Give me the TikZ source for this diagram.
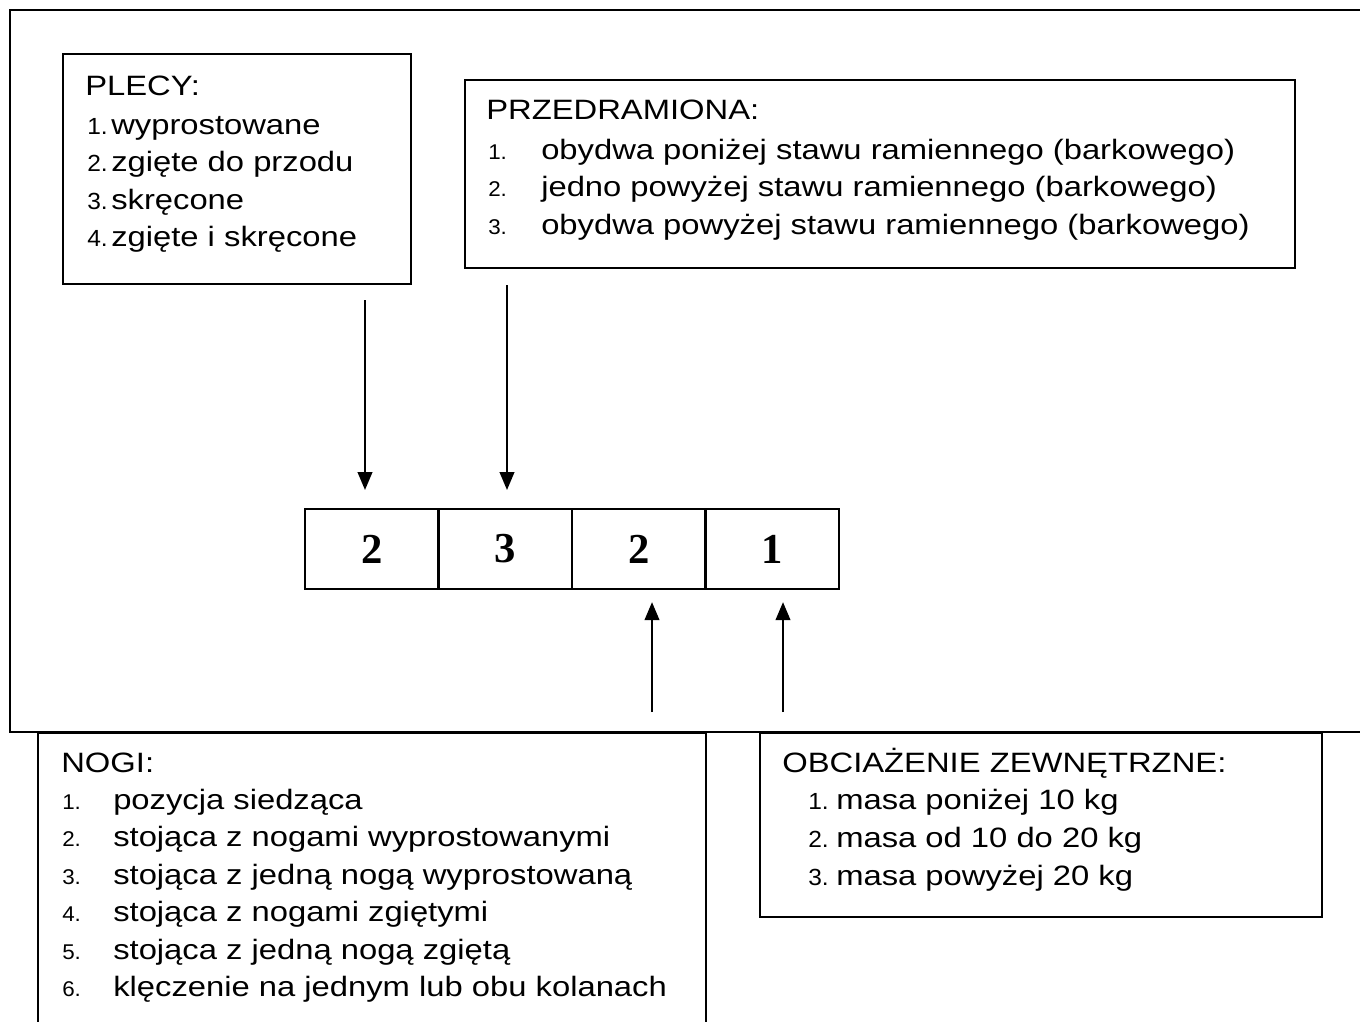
\documentclass[tikz,border=0pt]{standalone}
\usepackage{fontspec}
\setmainfont{Liberation Sans}
\newfontfamily\txtf[FakeStretch=1.17]{Liberation Sans}
\newfontfamily\numf[FakeStretch=1.05]{Liberation Sans}
\newfontfamily\cellf{Liberation Serif}
\usetikzlibrary{arrows.meta}
\begin{document}
\begin{tikzpicture}[x=0.75pt,y=-0.75pt,
  frame/.style={line width=1.6pt},
  box/.style={draw, line width=1.6pt, fill=white, inner sep=0pt, anchor=north west},
  cellbox/.style={draw, line width=1.6pt, fill=white, inner sep=0pt, anchor=north west,
    minimum width=100.1pt, minimum height=60pt,
    font=\fontsize{32}{36}\cellf\bfseries},
  tl/.style={anchor=base west, inner sep=0pt, font=\fontsize{21}{25}\txtf},
  nl/.style={anchor=base west, inner sep=0pt, font=\fontsize{16}{19}\numf},
  nlb/.style={anchor=base west, inner sep=0pt, font=\fontsize{17.5}{20}\numf},
  arr/.style={line width=1.5pt, -{Triangle[length=13.5pt,width=11pt]}}]
\useasboundingbox (0,0) rectangle (1360,1021);
\clip (0,0) rectangle (1360,1021);
\fill[white] (0,0) rectangle (1360,1021);
% outer frame
\draw[frame] (1370,10) -- (10,10) -- (10,732) -- (1370,732);

% PLECY
\node[box, minimum width=261pt, minimum height=172.5pt] (plecy) at (62,53) {};
\node[tl] (p0) at (85,95) {PLECY:};
\node[nlb] (pn1) at (87,134) {1.};
\node[tl] (p1) at (111,134) {wyprostowane};
\node[nlb] (pn2) at (87,171.5) {2.};
\node[tl] (p2) at (111,171.5) {zgięte do przodu};
\node[nlb] (pn3) at (87,209) {3.};
\node[tl] (p3) at (111,209) {skręcone};
\node[nlb] (pn4) at (87,246.5) {4.};
\node[tl] (p4) at (111,246.5) {zgięte i skręcone};

% PRZEDRAMIONA
\node[box, minimum width=622.5pt, minimum height=141pt] (przed) at (464,79) {};
\node[tl] (r0) at (486,119) {PRZEDRAMIONA:};
\node[nl] (rn1) at (488,159) {1.};
\node[tl] (r1) at (541,159) {obydwa poniżej stawu ramiennego (barkowego)};
\node[nl] (rn2) at (488,196) {2.};
\node[tl] (r2) at (541,196) {jedno powyżej stawu ramiennego (barkowego)};
\node[nl] (rn3) at (488,234) {3.};
\node[tl] (r3) at (541,234) {obydwa powyżej stawu ramiennego (barkowego)};

% cells
\node[cellbox] (c1) at (304,508) {2};
\node[cellbox] (c2) at (437.5,508) {3};
\node[cellbox] (c3) at (571,508) {2};
\node[cellbox] (c4) at (704.5,508) {1};

% NOGI
\node[box, minimum width=501pt, minimum height=231pt] (nogi) at (37,732) {};
\node[tl] (n0) at (61,772) {NOGI:};
\node[nl] (nn1) at (62,809) {1.};
\node[tl] (n1) at (113,809) {pozycja siedząca};
\node[nl] (nn2) at (62,846) {2.};
\node[tl] (n2) at (113,846) {stojąca z nogami wyprostowanymi};
\node[nl] (nn3) at (62,884) {3.};
\node[tl] (n3) at (113,884) {stojąca z jedną nogą wyprostowaną};
\node[nl] (nn4) at (62,921) {4.};
\node[tl] (n4) at (113,921) {stojąca z nogami zgiętymi};
\node[nl] (nn5) at (62,959) {5.};
\node[tl] (n5) at (113,959) {stojąca z jedną nogą zgiętą};
\node[nl] (nn6) at (62,996) {6.};
\node[tl] (n6) at (113,996) {klęczenie na jednym lub obu kolanach};

% OBCIAZENIE
\node[box, minimum width=421.5pt, minimum height=138pt] (obc) at (759,732) {};
\node[tl] (o0) at (782,772) {OBCIAŻENIE ZEWNĘTRZNE:};
\node[nlb] (on1) at (808,809) {1.};
\node[tl] (o1) at (836,809) {masa poniżej 10 kg};
\node[nlb] (on2) at (808,847) {2.};
\node[tl] (o2) at (836,847) {masa od 10 do 20 kg};
\node[nlb] (on3) at (808,885) {3.};
\node[tl] (o3) at (836,885) {masa powyżej 20 kg};

% arrows
\coordinate (d1) at (365,0);
\coordinate (d2) at (507,0);
\coordinate (u3) at (652,712);
\coordinate (u4) at (783,712);
\draw[arr, shorten <=11.25pt, shorten >=13.5pt] (plecy.south -| d1) -- (c1.north -| d1);
\draw[arr, shorten <=12pt, shorten >=13.5pt] (przed.south -| d2) -- (c2.north -| d2);
\draw[arr, shorten >=9pt] (u3) -- (c3.south -| u3);
\draw[arr, shorten >=9pt] (u4) -- (c4.south -| u4);
\end{tikzpicture}
\end{document}
